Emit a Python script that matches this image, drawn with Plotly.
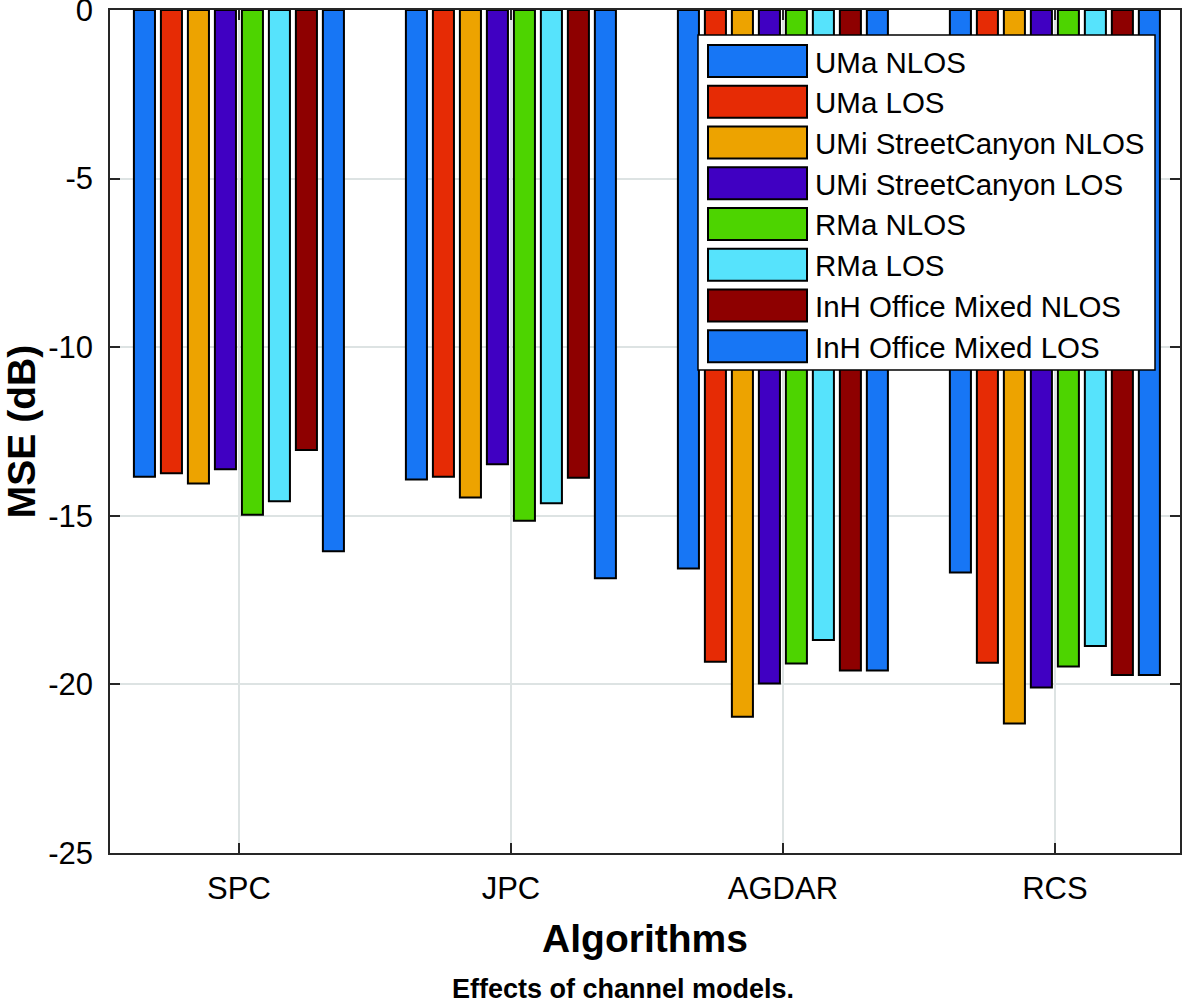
import plotly.graph_objects as go

# ---------------- data ----------------
algorithms = ["SPC", "JPC", "AGDAR", "RCS"]
series_names = [
    "UMa NLOS",
    "UMa LOS",
    "UMi StreetCanyon NLOS",
    "UMi StreetCanyon LOS",
    "RMa NLOS",
    "RMa LOS",
    "InH Office Mixed NLOS",
    "InH Office Mixed LOS",
]
uma_nlos = [-13.84, -13.92, -16.56, -16.68]
uma_los = [-13.74, -13.84, -19.33, -19.36]
umi_nlos = [-14.04, -14.46, -20.96, -21.16]
umi_los = [-13.62, -13.47, -19.97, -20.09]
rma_nlos = [-14.97, -15.15, -19.38, -19.47]
rma_los = [-14.57, -14.63, -18.68, -18.86]
inh_nlos = [-13.05, -13.87, -19.59, -19.72]
inh_los = [-16.05, -16.85, -19.59, -19.72]
series_values = [uma_nlos, uma_los, umi_nlos, umi_los,
                 rma_nlos, rma_los, inh_nlos, inh_los]
colors = ["#1776F5", "#E62B05", "#EDA300", "#4000C2",
          "#4DD400", "#56E3FC", "#8E0000", "#1776F5"]
y_ticks = [0, -5, -10, -15, -20, -25]

# ---------------- layout constants ----------------
W, H = 1182, 1004
ML, MR, MT, MB = 110, 2, 10, 151
PW, PH = W - ML - MR, H - MT - MB
FONT = "Liberation Sans, Arial, Helvetica, sans-serif"


def px_x(x):
    return (x - ML) / PW


def px_y(y):
    return 1 - (y - MT) / PH


fig = go.Figure()
for name, vals, col in zip(series_names, series_values, colors):
    fig.add_trace(go.Bar(
        x=algorithms, y=vals, name=name,
        marker=dict(color=col, line=dict(color="black", width=2)),
        showlegend=False,
    ))

# ---------------- custom legend (box + swatches + labels) ----------------
shapes = [dict(type="rect", xref="paper", yref="paper",
               x0=px_x(698), x1=px_x(1155), y0=px_y(370), y1=px_y(35),
               fillcolor="white", line=dict(color="black", width=1.5),
               layer="above")]
annotations = []
row0, pitch, sw_h = 45, 40.75, 32
for i, (name, col) in enumerate(zip(series_names, colors)):
    top = row0 + i * pitch
    shapes.append(dict(type="rect", xref="paper", yref="paper",
                       x0=px_x(708), x1=px_x(807),
                       y0=px_y(top + sw_h), y1=px_y(top),
                       fillcolor=col, line=dict(color="black", width=2),
                       layer="above"))
    annotations.append(dict(xref="paper", yref="paper",
                            x=px_x(813), y=px_y(top + sw_h / 2 + 1),
                            text=name, showarrow=False,
                            xanchor="left", yanchor="middle",
                            font=dict(family=FONT, size=29.5, color="black")))

annotations.append(dict(xref="paper", yref="paper",
                        x=px_x(623), y=px_y(989),
                        text="<b>Effects of channel models.</b>",
                        showarrow=False, xanchor="center", yanchor="middle",
                        font=dict(family=FONT, size=27, color="black")))

fig.update_layout(
    width=W, height=H, autosize=False,
    margin=dict(l=ML, r=MR, t=MT, b=MB, pad=0),
    paper_bgcolor="white", plot_bgcolor="white",
    barmode="group", bargap=0.206, bargroupgap=0.22,
    font=dict(family=FONT, color="black"),
    shapes=shapes, annotations=annotations,
)
fig.update_xaxes(
    type="category", range=[-0.474, 3.46], automargin=False,
    showgrid=True, gridcolor="#DDE3E3", gridwidth=1.5,
    showline=True, linecolor="#262626", linewidth=1.5, mirror="ticks",
    ticks="inside", ticklen=10, tickcolor="#262626", tickwidth=1.5,
    tickfont=dict(family=FONT, size=31, color="black"),
    ticklabelstandoff=7, ticklabeloverflow="allow",
    title=dict(text="<b>Algorithms</b>", standoff=20,
               font=dict(family=FONT, size=39, color="black")),
    zeroline=False,
)
fig.update_yaxes(
    range=[-25, 0], tickvals=y_ticks, ticktext=[str(v) for v in y_ticks],
    automargin=False,
    showgrid=True, gridcolor="#DDE3E3", gridwidth=1.5,
    showline=True, linecolor="#262626", linewidth=1.5, mirror="ticks",
    ticks="inside", ticklen=10, tickcolor="#262626", tickwidth=1.5,
    tickfont=dict(family=FONT, size=31, color="black"),
    ticklabelstandoff=9, ticklabeloverflow="allow",
    title=dict(text="<b>MSE (dB)</b>", standoff=25,
               font=dict(family=FONT, size=39, color="black")),
    zeroline=False,
)

fig.write_html(
    "out.html",
    config={"displayModeBar": False},
    post_script="document.body.style.margin='0';"
                "document.body.style.overflow='hidden';",
)
